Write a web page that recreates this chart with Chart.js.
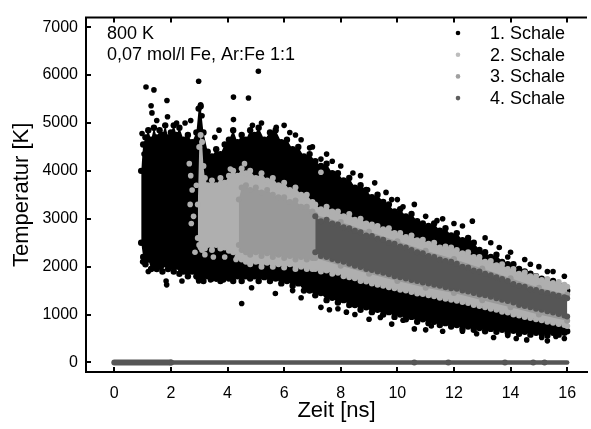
<!DOCTYPE html>
<html>
<head>
<meta charset="utf-8">
<script src="https://cdn.jsdelivr.net/npm/chart.js@4/dist/chart.umd.min.js"></script>
<style>
  html, body { margin: 0; padding: 0; background: #fff; }
  #wrap { width: 591px; height: 429px; }
</style>
</head>
<body>
<div id="wrap"><canvas id="chart"></canvas></div>
<script>
// Values (time in ns, temperature in K)
const seriesNames = ['1. Schale', '2. Schale', '3. Schale', '4. Schale'];
const xTicks = [0, 2, 4, 6, 8, 10, 12, 14, 16];
const yTicks = [0, 1000, 2000, 3000, 4000, 5000, 6000, 7000];

// 1. Schale: dense cloud (upper / lower edge) and loose points
const s1Time  = [0.95, 1.02, 1.1, 1.2, 1.3, 1.4, 1.5, 1.6, 1.7, 1.8, 1.9, 2.0, 2.1, 2.2, 2.3,
                 2.45, 2.6, 2.75, 2.9, 2.98, 3.05, 3.15, 3.3, 3.45, 3.6, 3.75, 3.9, 4.05, 4.2, 4.35, 4.5, 4.65, 4.8, 4.95,
                 5.1, 5.3, 5.5, 5.7, 5.9, 6.1, 6.3, 6.5, 6.7, 6.9,
                 7.1, 7.3, 7.5, 7.7, 7.9, 8.1, 8.3, 8.5, 8.7, 8.9, 9.1, 9.3, 9.5, 9.7, 9.9, 10.1, 10.3, 10.5, 10.7, 10.9,
                 11.1, 11.3, 11.5, 11.7, 11.9, 12.1, 12.3, 12.5, 12.7, 12.9, 13.1, 13.3, 13.5, 13.7, 13.9, 14.1, 14.3, 14.5, 14.7, 14.9,
                 15.1, 15.3, 15.5, 15.7, 15.9, 16.0];
const s1Upper = [4000, 4550, 4700, 4850, 4650, 4900, 4700, 4850, 4750, 4950, 4700, 4800, 4950, 4750, 4900,
                 4650, 4750, 4600, 4800, 5300, 5350, 4800, 4400, 4300, 4450, 4350, 4550, 4650, 4850, 4600, 4750, 4650, 4850, 4750,
                 4900, 4650, 4800, 4850, 4600, 4650, 4450, 4500, 4300, 4350,
                 4200, 4100, 4150, 3950, 3950, 3800, 3850, 3650, 3700, 3600, 3450, 3500, 3350, 3300, 3150, 3200, 3050, 3100, 2950, 2900,
                 2850, 2900, 2750, 2800, 2650, 2700, 2550, 2600, 2500, 2350, 2300, 2200, 2250, 2100, 2050, 2050, 1950, 1900, 1850, 1800,
                 1750, 1700, 1700, 1620, 1600, 1500];
const s1Lower = [2500, 2200, 2050, 2150, 1950, 2050, 1950, 2000, 1900, 2050, 1950, 2000, 1900, 2000, 1850,
                 1900, 1800, 1900, 1800, 1750, 1800, 1700, 1800, 1750, 1800, 1700, 1800, 1750, 1700, 1800, 1700, 1800, 1750, 1800,
                 1700, 1780, 1700, 1750, 1650, 1700, 1600, 1650, 1500, 1500,
                 1400, 1450, 1300, 1350, 1250, 1300, 1200, 1200, 1100, 1150, 1050, 1100, 1000, 1050, 950, 1000, 900, 950, 850, 900,
                 820, 850, 780, 820, 750, 780, 700, 750, 680, 720, 650, 700, 640, 680, 620, 660, 600, 640, 580, 620,
                 600, 560, 620, 580, 620, 650];
const s1DotTime = [1.12, 1.40, 1.86, 1.88, 1.30, 1.33, 0.98, 1.05, 1.5, 2.2, 2.5, 2.7, 2.98, 3.05, 3.1, 3.55, 3.7,
                   4.21, 4.74, 5.09, 4.21, 4.88, 5.72, 5.2, 6.0, 6.4, 6.9, 7.3, 7.7, 8.43, 8.95, 9.8, 10.2, 11.0, 11.4,
                   12.65, 13.1, 13.9, 14.5, 15.3, 15.9, 6.2, 6.6, 7.0, 7.5, 8.0, 8.7, 9.2, 9.6, 10.0, 10.6, 11.6, 12.0,
                   12.3, 13.3, 13.6, 14.0, 14.7, 15.0, 15.5,
                   1.83, 1.85, 2.39, 2.98, 3.4, 3.6, 3.86, 4.5, 4.85, 5.69, 6.3, 7.3, 7.9, 8.5, 9.4, 10.2, 11.2, 12.3,
                   12.8, 13.9, 14.57, 15.1, 15.6, 1.0, 1.2, 6.6, 7.6, 8.2, 9.0, 9.8, 10.6, 11.0, 11.6, 13.4, 14.2, 15.3, 15.9];
const s1DotTemp = [5750, 5690, 5470, 5130, 5360, 5210, 4780, 4350, 5050, 5000, 5000, 5050, 5870, 5380, 5150, 4700, 4850,
                   5540, 5520, 6080, 5070, 4950, 4910, 5000, 4950, 4750, 4480, 4245, 4200, 3956, 3606, 3400, 3250, 3050, 2960,
                   2950, 2600, 2200, 2150, 1900, 1800, 4800, 4650, 4500, 4350, 4100, 3900, 3750, 3550, 3400, 3300, 3000, 2900,
                   2850, 2500, 2400, 2300, 2050, 2000, 1900,
                   1700, 1620, 1700, 1700, 1720, 1740, 1720, 1230, 1560, 1440, 1500, 1150, 1120, 1000, 940, 880, 760, 650,
                   600, 560, 470, 520, 540, 2100, 1900, 1350, 1100, 1050, 900, 800, 700, 680, 650, 520, 500, 450, 500];

// 2. Schale
const s2Time  = [2.95, 3.0, 3.05, 3.1, 3.15, 3.2, 3.3, 3.45, 3.6, 3.75, 3.9, 4.05, 4.2, 4.35, 4.5, 4.65, 4.8,
                 5.0, 5.2, 5.4, 5.6, 5.8, 6.0, 6.2, 6.4, 6.6, 6.8, 7.0,
                 7.1, 7.3, 7.5, 7.7, 7.9, 8.1, 8.3, 8.5, 8.7, 8.9, 9.1, 9.3, 9.5, 9.7, 9.9, 10.1, 10.3, 10.5, 10.7, 10.9,
                 11.1, 11.3, 11.5, 11.7, 11.9, 12.1, 12.3, 12.5, 12.7, 12.9, 13.1, 13.3, 13.5, 13.7, 13.9, 14.1, 14.3, 14.5, 14.7, 14.9,
                 15.1, 15.3, 15.5, 15.7, 15.9, 16.0];
const s2Upper = [3300, 4500, 4750, 4600, 4100, 3850, 3700, 3800, 3700, 3850, 3750, 3900, 4000, 3900, 4050, 3950, 4000,
                 3850, 3950, 3800, 3850, 3700, 3750, 3600, 3650, 3500, 3500, 3350,
                 3300, 3200, 3250, 3150, 3150, 3050, 3100, 2980, 3000, 2900, 2880, 2850, 2780, 2800, 2700, 2700, 2620, 2650, 2550, 2560,
                 2480, 2500, 2400, 2420, 2400, 2350, 2280, 2300, 2200, 2200, 2100, 2120, 2030, 2050, 1950, 1950, 1850, 1880, 1800, 1800,
                 1720, 1740, 1660, 1680, 1620, 1580];
const s2Lower = [2600, 2450, 2400, 2350, 2450, 2380, 2450, 2350, 2450, 2380, 2400, 2330, 2300, 2200, 2150, 2100, 2050,
                 2100, 2000, 2080, 2000, 2050, 1980, 2050, 1950, 2000, 1950, 1950,
                 1950, 1900, 1920, 1850, 1870, 1800, 1780, 1760, 1700, 1690, 1650, 1620, 1600, 1570, 1550, 1520, 1500, 1470, 1440, 1430,
                 1400, 1380, 1350, 1330, 1310, 1290, 1260, 1240, 1200, 1180, 1150, 1120, 1100, 1060, 1040, 1000, 980, 950, 930, 900,
                 880, 850, 830, 800, 780, 760];
const s2DotTime = [2.65, 2.7, 2.75, 2.68, 2.8, 2.72, 2.9, 2.85, 3.2, 3.5, 4.6, 7.3, 4.1, 3.9, 4.3];
const s2DotTemp = [4150, 3900, 3600, 3300, 3050, 2900, 3700, 2300, 2250, 2200, 4150, 3970, 4040, 2200, 2150];

// 3. Schale
const s3Time  = [4.4, 4.5, 4.65, 4.8, 5.0, 5.2, 5.4, 5.6, 5.8, 6.0, 6.2, 6.4, 6.6, 6.8, 7.0, 7.1, 8.0, 9.0, 10.0, 11.0, 12.0, 13.0, 14.0, 15.0, 16.0];
const s3Upper = [3400, 3650, 3700, 3600, 3650, 3550, 3600, 3500, 3450, 3450, 3350, 3380, 3250, 3250, 3150, 3080, 2930, 2730, 2530, 2330, 2160, 1960, 1760, 1560, 1420];
const s3Lower = [2450, 2350, 2300, 2250, 2300, 2220, 2280, 2200, 2250, 2180, 2220, 2150, 2200, 2150, 2180, 2180, 2020, 1850, 1700, 1560, 1450, 1300, 1150, 1000, 870];

// 4. Schale
const s4Time  = [7.1, 7.3, 7.5, 7.7, 7.9, 8.1, 8.3, 8.5, 8.7, 8.9, 9.1, 9.3, 9.5, 9.7, 9.9, 10.1, 10.3, 10.5, 10.7, 10.9,
                 11.1, 11.3, 11.5, 11.7, 11.9, 12.1, 12.3, 12.5, 12.7, 12.9, 13.1, 13.3, 13.5, 13.7, 13.9, 14.1, 14.3, 14.5, 14.7, 14.9,
                 15.1, 15.3, 15.5, 15.7, 15.9, 16.0];
const s4Upper = [3050, 2950, 2980, 2900, 2880, 2820, 2800, 2750, 2720, 2650, 2640, 2580, 2560, 2500, 2480, 2420, 2400, 2350, 2300, 2280,
                 2220, 2200, 2150, 2120, 2100, 2060, 2000, 1980, 1920, 1900, 1850, 1820, 1780, 1740, 1700, 1640, 1600, 1580, 1530, 1510,
                 1470, 1450, 1420, 1390, 1360, 1340];
const s4Lower = [2300, 2220, 2200, 2160, 2130, 2100, 2060, 2020, 1990, 1950, 1930, 1900, 1870, 1840, 1800, 1780, 1750, 1720, 1700, 1670,
                 1650, 1620, 1600, 1570, 1550, 1540, 1500, 1480, 1450, 1420, 1400, 1370, 1340, 1310, 1280, 1250, 1200, 1180, 1150, 1120,
                 1100, 1070, 1040, 1010, 980, 960];
const zeroTimeA = [0, 2];
const zeroTimeB = [2, 16];
const zeroTemp  = [0, 0];
const zeroDotTime = [2, 10.6, 11.8, 13.8, 14.8, 15.2];
const zeroDotTemp = [0, 0, 0, 0, 0, 0];

const colors = ['#000000', '#afafaf', '#999999', '#565656'];
const legendColors = ['#000000', '#bdbdbd', '#a0a0a0', '#5e5e5e'];
const FONT = '"Liberation Sans", Arial, Helvetica, sans-serif';

function pts(xs, ys) {
    return xs.map((x, i) => ({ x: x, y: ys[i] }));
}

// upper edge filled down to the lower edge, edge points drawn as dots
function band(xs, up, lo, color, order, r) {
    const common = {
        type: 'line', showLine: false, order: order,
        borderColor: color, backgroundColor: color,
        pointRadius: r, pointBackgroundColor: color, pointBorderWidth: 0
    };
    return [
        Object.assign({ data: pts(xs, up), fill: '+1' }, common),
        Object.assign({ data: pts(xs, lo), fill: false }, common)
    ];
}

function dots(xs, ys, color, order, r) {
    return {
        type: 'scatter', data: pts(xs, ys), order: order,
        pointRadius: r || 2.8, pointBackgroundColor: color, pointBorderWidth: 0,
        backgroundColor: color, borderColor: color
    };
}

function zeroLine(xs, width) {
    return {
        type: 'line', data: pts(xs, zeroTemp), order: 5, fill: false,
        borderColor: colors[3], borderWidth: width, pointRadius: 0, borderCapStyle: 'round'
    };
}

const datasets = [].concat(
    band(s1Time, s1Upper, s1Lower, colors[0], 40, 3.2),
    [dots(s1DotTime, s1DotTemp, colors[0], 40)],
    band(s2Time, s2Upper, s2Lower, colors[1], 30, 3),
    [dots(s2DotTime, s2DotTemp, colors[1], 30)],
    band(s3Time, s3Upper, s3Lower, colors[2], 20, 3),
    band(s4Time, s4Upper, s4Lower, colors[3], 10, 3),
    [zeroLine(zeroTimeA, 6), zeroLine(zeroTimeB, 4.5), dots(zeroDotTime, zeroDotTemp, colors[3], 5, 3)]
);

// frame top, inward ticks, text block and legend
const decor = {
    id: 'decor',
    afterDraw(chart) {
        const ctx = chart.ctx;
        const a = chart.chartArea;
        const xs = chart.scales.x, ys = chart.scales.y;
        ctx.save();
        ctx.strokeStyle = '#000';
        ctx.lineWidth = 2;
        ctx.beginPath();
        ctx.moveTo(a.left - 1, a.top);
        ctx.lineTo(a.right, a.top);
        xTicks.forEach(v => {
            const px = Math.round(xs.getPixelForValue(v));
            ctx.moveTo(px, a.bottom); ctx.lineTo(px, a.bottom - 5);
            ctx.moveTo(px, a.top); ctx.lineTo(px, a.top + 5);
        });
        yTicks.forEach(v => {
            const py = Math.round(ys.getPixelForValue(v));
            ctx.moveTo(a.left, py); ctx.lineTo(a.left + 5, py);
        });
        ctx.stroke();

        ctx.fillStyle = '#000';
        ctx.font = '18px ' + FONT;
        ctx.textAlign = 'left';
        ctx.textBaseline = 'alphabetic';
        ctx.fillText('800 K', 107, 39);
        ctx.fillText('0,07 mol/l Fe, Ar:Fe 1:1', 107, 60);

        seriesNames.forEach((name, i) => {
            const y = 39 + i * 21.7;
            ctx.fillStyle = legendColors[i];
            ctx.beginPath();
            ctx.arc(458, y - 6, 2.3, 0, Math.PI * 2);
            ctx.fill();
            ctx.fillStyle = '#000';
            ctx.fillText(name, 490, y);
        });
        ctx.restore();
    }
};

new Chart(document.getElementById('chart'), {
    type: 'scatter',
    data: { datasets: datasets },
    options: {
        responsive: true,
        maintainAspectRatio: false,
        animation: false,
        events: [],
        layout: { padding: { top: 14, right: 0, left: 0, bottom: 0 } },
        plugins: { legend: { display: false }, tooltip: { enabled: false } },
        scales: {
            x: {
                type: 'linear', min: -1, max: 16.7,
                afterBuildTicks: s => { s.ticks = xTicks.map(v => ({ value: v })); },
                afterFit: s => { s.height = 57; },
                grid: { display: false, drawTicks: false },
                border: { display: true, color: '#000', width: 2 },
                ticks: { color: '#000', padding: 12, font: { family: FONT, size: 16 }, callback: v => String(v) },
                title: { display: true, text: 'Zeit [ns]', color: '#000', padding: { top: 0, bottom: 5 }, font: { family: FONT, size: 22 } }
            },
            y: {
                type: 'linear', min: -200, max: 7200,
                afterBuildTicks: s => { s.ticks = yTicks.map(v => ({ value: v })); },
                afterFit: s => { s.width = 86; },
                grid: { display: false, drawTicks: false },
                border: { display: true, color: '#000', width: 2 },
                ticks: { color: '#000', padding: 8, font: { family: FONT, size: 16 }, callback: v => String(v) },
                title: { display: true, text: 'Temperatur [K]', color: '#000', padding: { top: 9, bottom: 0 }, font: { family: FONT, size: 22 } }
            }
        }
    },
    plugins: [decor]
});
</script>
</body>
</html>
